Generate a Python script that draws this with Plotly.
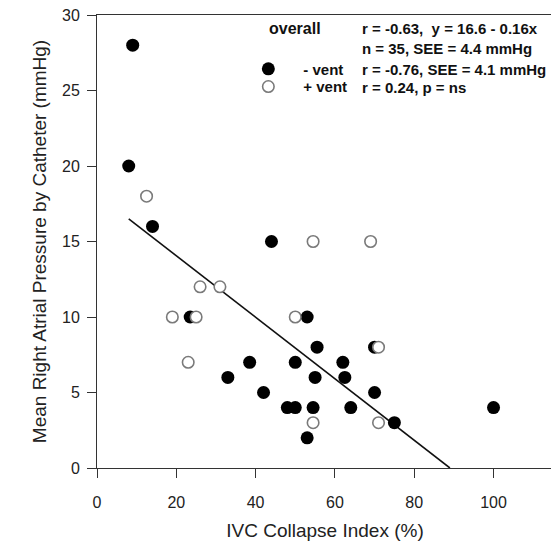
import plotly.graph_objects as go

# -vent (filled) points: IVC collapse index (%), mean RAP (mmHg)
vent_minus_x = [9, 8, 14, 23.5, 44, 53, 55.5, 70, 38.5, 50, 62, 33, 55, 62.5, 42, 70, 48, 50, 54.5, 64, 75, 53, 100]
vent_minus_y = [28, 20, 16, 10, 15, 10, 8, 8, 7, 7, 7, 6, 6, 6, 5, 5, 4, 4, 4, 4, 3, 2, 4]

# +vent (open) points
vent_plus_x = [12.5, 26, 31, 19, 25, 50, 54.5, 69, 71, 23, 54.5, 71]
vent_plus_y = [18, 12, 12, 10, 10, 10, 15, 15, 8, 7, 3, 3]

# regression line as drawn
fit_x = [8, 89]
fit_y = [16.5, 0]

x_ticks = [0, 20, 40, 60, 80, 100]
y_ticks = [0, 5, 10, 15, 20, 25, 30]

FONT = "Liberation Sans, Arial, sans-serif"
AX = "#333333"

fig = go.Figure()
fig.add_trace(go.Scatter(x=fit_x, y=fit_y, mode="lines",
                         line=dict(color="#111111", width=1.6), showlegend=False, hoverinfo="skip"))
fig.add_trace(go.Scatter(x=vent_minus_x, y=vent_minus_y, mode="markers", name="<b>- vent</b>",
                         legend="legend",
                         marker=dict(size=13, color="black", line=dict(width=0))))
fig.add_trace(go.Scatter(x=vent_plus_x, y=vent_plus_y, mode="markers", name="<b>+ vent</b>",
                         legend="legend2",
                         marker=dict(size=11.5, color="white", line=dict(width=1.6, color="#7a7a7a"))))

axis_common = dict(showgrid=False, zeroline=False, showline=True, linecolor=AX, linewidth=1,
                   mirror=True, ticks="outside", ticklen=9, tickcolor=AX, tickwidth=1,
                   automargin=False, ticklabeloverflow="allow",
                   tickfont=dict(family=FONT, size=16, color="#222"))

leg_common = dict(xanchor="left", yanchor="top", bgcolor="rgba(0,0,0,0)",
                  font=dict(family=FONT, size=15, color="#111"), itemwidth=60)

# The page body adds an 8px margin, so the figure is sized 8px smaller.
fig.update_layout(
    width=551, height=535,
    margin=dict(l=89, r=6, t=7, b=75),
    paper_bgcolor="white", plot_bgcolor="white",
    xaxis=dict(range=[0, 115], tickvals=x_ticks, ticklabelstandoff=11, **axis_common,
               title=dict(text="IVC Collapse Index (%)", font=dict(family=FONT, size=19, color="#222"), standoff=13)),
    yaxis=dict(range=[0, 30], tickvals=y_ticks, ticklabelstandoff=4, **axis_common,
               title=dict(text="Mean Right Atrial Pressure by Catheter (mmHg)",
                          font=dict(family=FONT, size=19, color="#222"), standoff=10)),
    legend=dict(x=0.299, y=0.917, **leg_common),
    legend2=dict(x=0.299, y=0.878, **leg_common),
    font=dict(family=FONT),
)

def ann(text, x, y, size=15):
    fig.add_annotation(text=f"<b>{text}</b>", x=x, y=y, xref="paper", yref="paper",
                       xanchor="left", yanchor="middle", showarrow=False,
                       font=dict(family=FONT, size=size, color="#111"))

ann("overall", 0.373, 0.971, size=16)
ann("r = -0.63,  y = 16.6 - 0.16x", 0.577, 0.971)
ann("n = 35, SEE = 4.4 mmHg", 0.577, 0.927)
ann("r = -0.76, SEE = 4.1 mmHg", 0.577, 0.879)
ann("r = 0.24, p = ns", 0.577, 0.839)

fig.write_html("out.html")
